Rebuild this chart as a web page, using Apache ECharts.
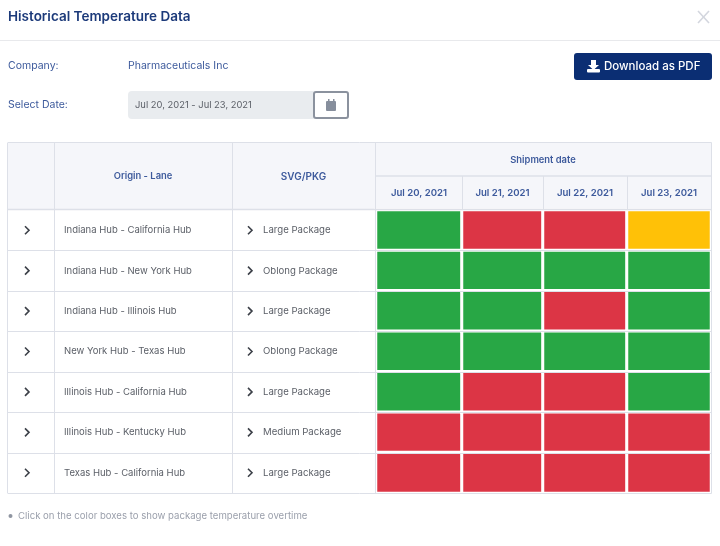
<!DOCTYPE html>
<html>
<head>
<meta charset="utf-8">
<title>Historical Temperature Data</title>
<script src="https://cdn.jsdelivr.net/npm/echarts@6/dist/echarts.min.js"></script>
<style>
html,body{margin:0;padding:0;background:#fff;}
#chart{width:720px;height:546px;}
</style>
</head>
<body>
<div id="chart"></div>
<script>
// chart values
var shipmentDates = ['Jul 20, 2021', 'Jul 21, 2021', 'Jul 22, 2021', 'Jul 23, 2021'];
var lanes = ['Indiana Hub - California Hub', 'Indiana Hub - New York Hub', 'Indiana Hub - Illinois Hub', 'New York Hub - Texas Hub', 'Illinois Hub - California Hub', 'Illinois Hub - Kentucky Hub', 'Texas Hub - California Hub'];
var packages = ['Large Package', 'Oblong Package', 'Large Package', 'Oblong Package', 'Large Package', 'Medium Package', 'Large Package'];
// one list per date, top row first: 2 = green, 1 = yellow, 0 = red
var statusJul20 = [2, 2, 2, 2, 2, 0, 0];
var statusJul21 = [0, 2, 2, 2, 0, 0, 0];
var statusJul22 = [0, 2, 0, 2, 0, 0, 0];
var statusJul23 = [1, 2, 2, 2, 2, 0, 0];
var statusByDate = [statusJul20, statusJul21, statusJul22, statusJul23];

var statusColor = ['#dc3545', '#ffc107', '#28a745'];
var fontName = 'Inter, "Noto Sans", sans-serif';
var navy = '#1c3a7a', blue = '#3d5a9c', grey = '#5c6068', line = '#dde0e8';

// table layout, the date columns are not all the same width
var colEdges = [376, 462, 543, 627, 711];
var tableTop = 143, headMid = 176, bodyTop = 210, bodyBottom = 493;
var rowH = (bodyBottom - bodyTop) / lanes.length;

var grids = [], xAxes = [], yAxes = [], seriesList = [];
shipmentDates.forEach(function (d, i) {
    grids.push({left: colEdges[i], top: bodyTop, width: colEdges[i + 1] - colEdges[i], height: bodyBottom - bodyTop});
    xAxes.push({
        type: 'category', gridIndex: i, position: 'top', data: [d],
        axisLine: {show: false}, axisTick: {show: false}, splitLine: {show: false},
        axisLabel: {color: blue, fontFamily: fontName, fontSize: 9.6, fontWeight: 600, margin: 12}
    });
    yAxes.push({
        type: 'category', gridIndex: i, inverse: true, position: 'left', data: lanes,
        axisLine: {show: false}, axisTick: {show: false}, splitLine: {show: false},
        axisLabel: i == 0 ? {show: true, color: grey, fontFamily: fontName, fontSize: 9.5, align: 'left', margin: 312, interval: 0} : {show: false}
    });
    seriesList.push({
        type: 'heatmap', xAxisIndex: i, yAxisIndex: i,
        data: statusByDate[i].map(function (s, r) {
            return {value: [0, r, s], itemStyle: {color: statusColor[s]}};
        }),
        itemStyle: {borderColor: '#fff', borderWidth: 3},
        emphasis: {disabled: true}
    });
});
// package names as a second label column
yAxes.push({
    type: 'category', gridIndex: 0, inverse: true, position: 'left', data: packages,
    axisLine: {show: false}, axisTick: {show: false}, splitLine: {show: false},
    axisLabel: {color: grey, fontFamily: fontName, fontSize: 9.6, align: 'left', margin: 113, interval: 0}
});

function txt(text, x, y, size, color, weight, align) {
    return {type: 'text', z: 5, style: {text: text, x: x, y: y, fill: color, align: align || 'left', verticalAlign: 'middle',
        font: (weight || 400) + ' ' + size + 'px ' + fontName}};
}
function rule(x1, y1, x2, y2, w, color) {
    return {type: 'line', z: 4, shape: {x1: x1, y1: y1, x2: x2, y2: y2}, style: {stroke: color || line, lineWidth: w || 1}};
}
function chevron(x, y) {
    return {type: 'polyline', z: 5, shape: {points: [[x - 2, y - 4], [x + 2, y], [x - 2, y + 4]]}, style: {stroke: '#3c4048', lineWidth: 1.6, fill: null}};
}

var g = [];
// header of the dialog
g.push(txt('Historical Temperature Data', 8, 17, 13.5, navy, 600));
g.push(rule(0, 40.5, 720, 40.5, 1, '#e8e9ec'));
g.push({type: 'polyline', z: 5, shape: {points: [[698, 11], [709, 23]]}, style: {stroke: '#d3d6de', lineWidth: 1.6, fill: null}});
g.push({type: 'polyline', z: 5, shape: {points: [[709, 11], [698, 23]]}, style: {stroke: '#d3d6de', lineWidth: 1.6, fill: null}});
g.push(txt('Company:', 8, 65.5, 10.5, blue));
g.push(txt('Pharmaceuticals Inc', 128, 65.5, 10.5, blue));
g.push(txt('Select Date:', 8, 104.5, 10.5, blue));

// date field and calendar button
g.push({type: 'rect', z: 3, shape: {x: 128, y: 91, width: 188, height: 28, r: 4}, style: {fill: '#e9ecef'}});
g.push(txt('Jul 20, 2021 - Jul 23, 2021', 135, 105, 9.4, grey));
g.push({type: 'rect', z: 4, shape: {x: 314, y: 92, width: 34, height: 26, r: 2}, style: {fill: '#fff', stroke: '#8b929e', lineWidth: 2}});
g.push({type: 'rect', z: 5, shape: {x: 326, y: 101, width: 10, height: 10, r: 1}, style: {fill: '#868e9c'}});
g.push({type: 'rect', z: 5, shape: {x: 328, y: 99, width: 1.5, height: 3}, style: {fill: '#868e9c'}});
g.push({type: 'rect', z: 5, shape: {x: 333, y: 99, width: 1.5, height: 3}, style: {fill: '#868e9c'}});

// download button
g.push({type: 'rect', z: 3, shape: {x: 574, y: 53, width: 138, height: 27, r: 3}, style: {fill: '#0b2e73'}});
g.push({type: 'polygon', z: 5, shape: {points: [[591, 60], [596, 60], [596, 65], [599, 65], [593.5, 70], [588, 65], [591, 65]]}, style: {fill: '#fff'}});
g.push({type: 'rect', z: 5, shape: {x: 587, y: 69, width: 13, height: 3.5, r: 1}, style: {fill: '#fff'}});
g.push(txt('Download as PDF', 604, 67, 11.5, '#ffffff', 500));

// table frame
g.push({type: 'rect', z: 0, shape: {x: 8, y: tableTop, width: 703, height: bodyTop - tableTop}, style: {fill: '#f5f6fa'}});
g.push(rule(8, 142.5, 711.5, 142.5));
g.push(rule(376, headMid, 711.5, headMid, 1.5));
g.push(rule(8, 209.5, 711.5, 209.5, 1.5));
g.push(rule(7.5, 142.5, 7.5, 493.5));
g.push(rule(54.5, 142.5, 54.5, 493.5));
g.push(rule(232.5, 142.5, 232.5, 493.5));
g.push(rule(375.5, 142.5, 375.5, 493.5));
g.push(rule(711.5, 142.5, 711.5, 493.5));
for (var c = 1; c < 4; c++) {
    g.push(rule(colEdges[c] + 0.5, headMid, colEdges[c] + 0.5, bodyTop));
}
g.push(txt('Origin - Lane', 143, 176.5, 9.4, blue, 600, 'center'));
g.push(txt('SVG/PKG', 303.5, 176.5, 10, blue, 600, 'center'));
g.push(txt('Shipment date', 543, 160.5, 9.4, blue, 600, 'center'));

// row separators and expand arrows
lanes.forEach(function (l, r) {
    var bottom = Math.round(bodyTop + rowH * (r + 1)) + 0.5;
    g.push(rule(8, bottom, 711.5, bottom));
    g.push(chevron(27, bodyTop + rowH * (r + 0.5)));
    g.push(chevron(250, bodyTop + rowH * (r + 0.5)));
});

// footnote
g.push({type: 'circle', z: 5, shape: {cx: 10.5, cy: 516, r: 2}, style: {fill: '#8f95a1'}});
g.push(txt('Click on the color boxes to show package temperature overtime', 18, 516.5, 9.6, '#9a9fab'));

var chart = echarts.init(document.getElementById('chart'), null, {renderer: 'canvas'});
chart.setOption({
    animation: false,
    backgroundColor: '#fff',
    grid: grids,
    xAxis: xAxes,
    yAxis: yAxes,
    series: seriesList,
    graphic: {elements: g}
});
</script>
</body>
</html>
